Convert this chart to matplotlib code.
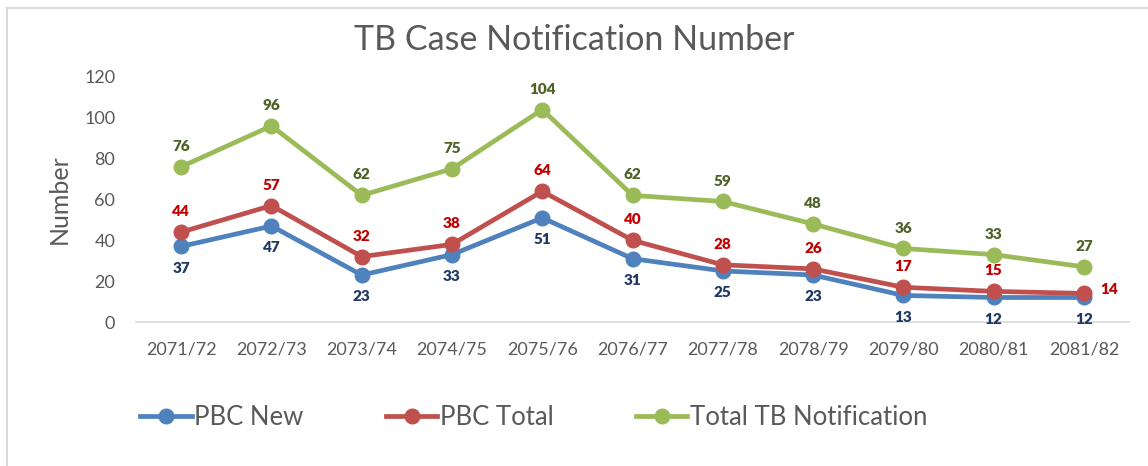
import matplotlib
matplotlib.use('Agg')
import matplotlib.pyplot as plt
from matplotlib.lines import Line2D

plt.rcParams['font.family'] = ['Lato', 'DejaVu Sans']

years = ["2071/72", "2072/73", "2073/74", "2074/75", "2075/76", "2076/77",
         "2077/78", "2078/79", "2079/80", "2080/81", "2081/82"]
pbc_new = [37, 47, 23, 33, 51, 31, 25, 23, 13, 12, 12]
pbc_total = [44, 57, 32, 38, 64, 40, 28, 26, 17, 15, 14]
total_tb = [76, 96, 62, 75, 104, 62, 59, 48, 36, 33, 27]

grey = '#595959'
fig = plt.figure(figsize=(11.48, 4.66), dpi=100)
ax = fig.add_axes([0.1185, 0.309, 0.865, 0.526])

x = list(range(len(years)))
series = [
    (pbc_new, '#4F81BD', 'PBC New'),
    (pbc_total, '#C0504D', 'PBC Total'),
    (total_tb, '#9BBB59', 'Total TB Notification'),
]
for vals, c, lab in series:
    ax.plot(x, vals, color=c, lw=3.4, marker='o', ms=10.5, solid_capstyle='round', label=lab)

# data labels
lbl = dict(fontsize=11, fontweight='heavy', textcoords='offset points')
for i, v in enumerate(total_tb):
    ax.annotate(str(v), (i, v), xytext=(0, 10), ha='center', va='bottom',
                color='#4F6228', **lbl)
for i, v in enumerate(pbc_total):
    if i == len(pbc_total) - 1:
        ax.annotate(str(v), (i, v), xytext=(12, 3), ha='left', va='center',
                    color='#C00000', **lbl)
    else:
        ax.annotate(str(v), (i, v), xytext=(0, 10), ha='center', va='bottom',
                    color='#C00000', **lbl)
for i, v in enumerate(pbc_new):
    ax.annotate(str(v), (i, v), xytext=(0, -11), ha='center', va='top',
                color='#1F3864', **lbl)

ax.set_xlim(-0.5, len(years) - 0.5)
ax.set_ylim(0, 120)
ax.set_yticks(range(0, 121, 20))
ax.set_xticks(x)
ax.set_xticklabels(years)
ax.tick_params(axis='both', length=0, labelsize=13, colors=grey)
ax.tick_params(axis='x', pad=14)
ax.tick_params(axis='y', pad=15)
for s in ['top', 'right', 'left']:
    ax.spines[s].set_visible(False)
ax.spines['bottom'].set_color('#D9D9D9')
ax.spines['bottom'].set_linewidth(1.2)
ax.set_ylabel('Number', fontsize=18, color=grey)
ax.yaxis.set_label_coords(-0.066, 0.5)

fig.text(0.5, 0.914, 'TB Case Notification Number', ha='center', va='center',
         fontsize=24.5, color=grey)

handles = [Line2D([0], [0], color=c, lw=3.4, marker='o', ms=10.5) for _, c, _ in series]
fig.legend(handles, [s[2] for s in series], loc='center', bbox_to_anchor=(0.465, 0.105),
           ncol=3, frameon=False, fontsize=18.5, labelcolor=grey, handlelength=2.0,
           handletextpad=0.1, columnspacing=3.2)

# chart border
fig.add_artist(Line2D([7 / 1148, 1], [1 - 8 / 466, 1 - 8 / 466], color='#D9D9D9', lw=1.5))
fig.add_artist(Line2D([7 / 1148, 7 / 1148], [0, 1 - 8 / 466], color='#D9D9D9', lw=1.5))

fig.savefig('out.png', dpi=100)
